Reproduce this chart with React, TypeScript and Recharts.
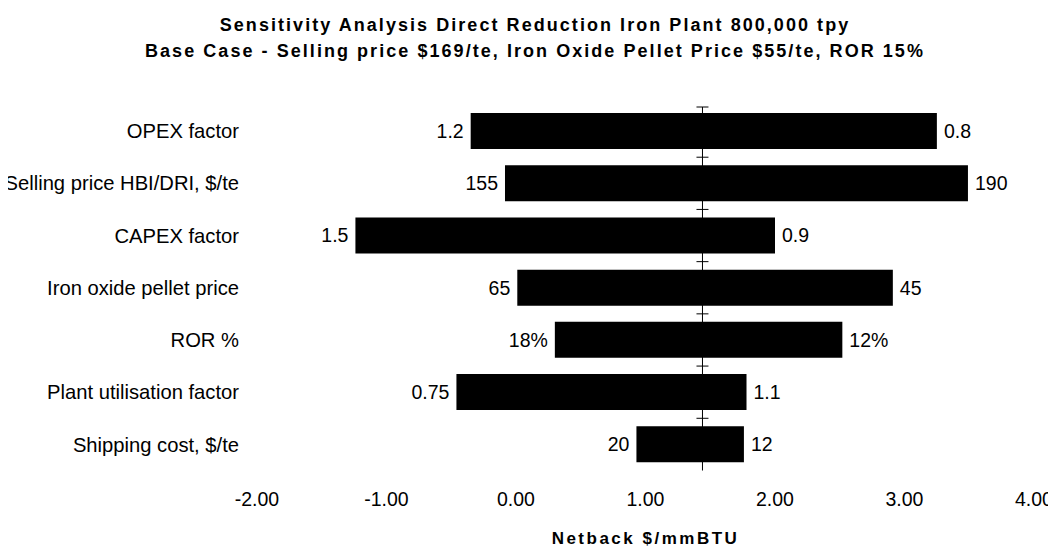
import React from 'react';
import { BarChart, Bar, XAxis, YAxis, ReferenceLine, LabelList } from 'recharts';

const categories = [
  'OPEX factor',
  'Selling price HBI/DRI, $/te',
  'CAPEX factor',
  'Iron oxide pellet price',
  'ROR %',
  'Plant utilisation factor',
  'Shipping cost, $/te',
];
const lowValues = [-0.35, -0.085, -1.24, 0.01, 0.3, -0.46, 0.93];
const highValues = [3.25, 3.49, 2.0, 2.91, 2.52, 1.78, 1.76];
const leftLabels = ['1.2', '155', '1.5', '65', '18%', '0.75', '20'];
const rightLabels = ['0.8', '190', '0.9', '45', '12%', '1.1', '12'];
const xTicks = [-2, -1, 0, 1, 2, 3, 4];
const baseCase = 1.44;

const titleLine1 = 'Sensitivity Analysis Direct Reduction Iron Plant 800,000 tpy';
const titleLine2 = 'Base Case - Selling price $169/te, Iron Oxide Pellet Price $55/te, ROR 15%';
const xAxisTitle = 'Netback $/mmBTU';

const data = categories.map((name, i) => ({
  name,
  range: [lowValues[i], highValues[i]],
  left: leftLabels[i],
  right: rightLabels[i],
}));

const FONT = '"Liberation Sans", Arial, sans-serif';

const EndLabels = (props: any) => {
  const { x, y, width, height, index } = props;
  const cy = y + height / 2;
  const d = data[index];
  return (
    <g>
      <text x={x - 7} y={cy} dy="0.36em" textAnchor="end" fontSize={19.5} fontFamily={FONT} fill="#000">
        {d.left}
      </text>
      <text x={x + width + 7} y={cy} dy="0.36em" textAnchor="start" fontSize={19.5} fontFamily={FONT} fill="#000">
        {d.right}
      </text>
    </g>
  );
};

const BaseLine = (props: any) => {
  const { x1, y1, x2, y2 } = props;
  if (x1 == null || y1 == null) return null;
  const top = Math.min(y1, y2);
  const bottom = Math.max(y1, y2);
  const band = (bottom - top) / categories.length;
  const marks = [];
  for (let i = 1; i < categories.length; i++) {
    const yy = top + band * i;
    marks.push(<line key={i} x1={x1 - 6} x2={x1 + 6} y1={yy} y2={yy} stroke="#000" strokeWidth={1} />);
  }
  return (
    <g>
      <line x1={x1} x2={x2} y1={top + 2} y2={bottom} stroke="#000" strokeWidth={1} />
      <line x1={x1 - 6} x2={x1 + 6} y1={top + 2} y2={top + 2} stroke="#000" strokeWidth={1} />
      {marks}
    </g>
  );
};

export default function App() {
  return (
    <div style={{ position: 'relative', width: 1056, height: 542, margin: '0 0 0 -8px', fontFamily: FONT }}>
      <div
        style={{
          position: 'absolute',
          left: 535 - 500,
          width: 1000,
          top: 4,
          textAlign: 'center',
          fontWeight: 'bold',
          fontSize: 18,
          letterSpacing: 2.05,
          lineHeight: '26px',
          color: '#000',
          whiteSpace: 'nowrap',
        }}
      >
        <div>{titleLine1}</div>
        <div>{titleLine2}</div>
      </div>
      <BarChart
        width={1056}
        height={542}
        data={data}
        layout="vertical"
        margin={{ top: 97, right: 22, left: 0, bottom: 0 }}
        barSize={36}
      >
        <XAxis
          type="number"
          domain={[-2, 4]}
          ticks={xTicks}
          tickFormatter={(v: number) => v.toFixed(2)}
          axisLine={false}
          tickLine={false}
          tickSize={0}
          tickMargin={22}
          height={79.5}
          tick={{ fill: '#000', fontSize: 19.5, fontFamily: FONT }}
          label={{
            value: xAxisTitle,
            position: 'insideBottom',
            offset: 6,
            fill: '#000',
            fontSize: 17,
            fontWeight: 'bold',
            letterSpacing: 2.5,
            fontFamily: FONT,
          }}
        />
        <YAxis
          type="category"
          dataKey="name"
          width={257}
          axisLine={false}
          tickLine={false}
          tickSize={0}
          tickMargin={18}
          interval={0}
          tick={{ fill: '#000', fontSize: 20.2, fontFamily: FONT }}
        />
        <Bar dataKey="range" fill="#000" isAnimationActive={false}>
          <LabelList dataKey="range" content={EndLabels} />
        </Bar>
        <ReferenceLine x={baseCase} stroke="#000" strokeWidth={1} ifOverflow="visible" shape={BaseLine} />
      </BarChart>
    </div>
  );
}
